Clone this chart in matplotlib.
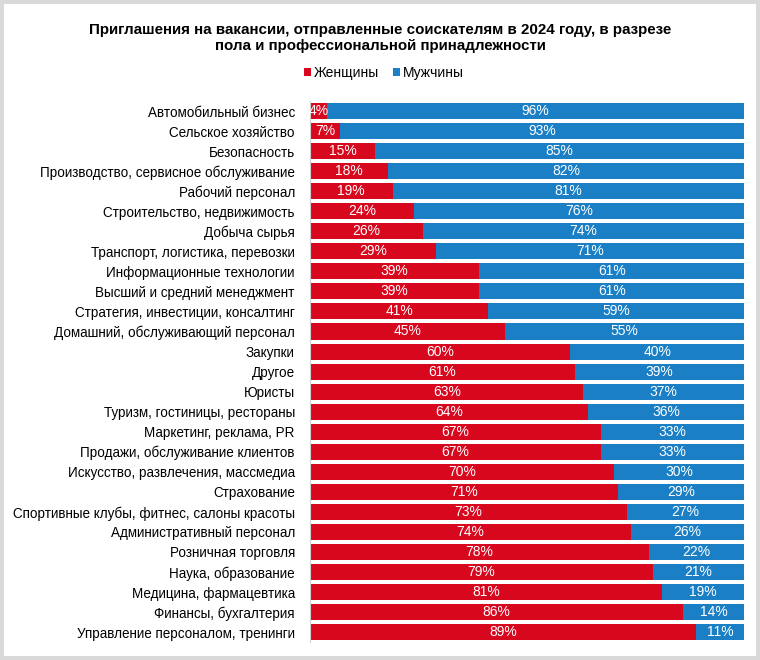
import matplotlib
matplotlib.use("Agg")
import matplotlib.pyplot as plt
import numpy as np

plt.rcParams["font.family"] = ["Liberation Sans", "DejaVu Sans"]

categories = [
    "Автомобильный бизнес",
    "Сельское хозяйство",
    "Безопасность",
    "Производство, сервисное обслуживание",
    "Рабочий персонал",
    "Строительство, недвижимость",
    "Добыча сырья",
    "Транспорт, логистика, перевозки",
    "Информационные технологии",
    "Высший и средний менеджмент",
    "Стратегия, инвестиции, консалтинг",
    "Домашний, обслуживающий персонал",
    "Закупки",
    "Другое",
    "Юристы",
    "Туризм, гостиницы, рестораны",
    "Маркетинг, реклама, PR",
    "Продажи, обслуживание клиентов",
    "Искусство, развлечения, массмедиа",
    "Страхование",
    "Спортивные клубы, фитнес, салоны красоты",
    "Административный персонал",
    "Розничная торговля",
    "Наука, образование",
    "Медицина, фармацевтика",
    "Финансы, бухгалтерия",
    "Управление персоналом, тренинги",
]
women = [4, 7, 15, 18, 19, 24, 26, 29, 39, 39, 41, 45, 60, 61, 63, 64,
         67, 67, 70, 71, 73, 74, 78, 79, 81, 86, 89]
men = [96, 93, 85, 82, 81, 76, 74, 71, 61, 61, 59, 55, 40, 39, 37, 36,
       33, 33, 30, 29, 27, 26, 22, 21, 19, 14, 11]

RED = "#d7071e"
BLUE = "#1b7fc6"

fig = plt.figure(figsize=(7.6, 6.6), dpi=100)
fig.patch.set_facecolor("white")
fig.patch.set_edgecolor("#d9d9d9")
fig.patch.set_linewidth(4.5)

ax = fig.add_axes([0.408, 0.027, 0.571, 0.820])
y = np.arange(len(categories))
bh = 0.8
ax.barh(y, women, height=bh, color=RED, label="Женщины")
ax.barh(y, men, left=women, height=bh, color=BLUE, label="Мужчины")

for i, (w, m) in enumerate(zip(women, men)):
    ax.text(w / 2, i, f"{w}%", ha="center", va="center", color="white", fontsize=10)
    ax.text(w + m / 2, i, f"{m}%", ha="center", va="center", color="white", fontsize=10)

ax.set_xlim(0, 100)
ax.set_ylim(len(categories) - 0.5, -0.5)
ax.set_yticks(y)
ax.set_yticklabels(categories, fontsize=9.75)
ax.set_xticks([])
ax.tick_params(axis="y", length=0, pad=11)
for side in ["top", "right", "bottom"]:
    ax.spines[side].set_visible(False)
ax.spines["left"].set_color("#d0d0d0")
ax.spines["left"].set_linewidth(0.8)

fig.text(0.5, 0.943, "Приглашения на вакансии, отправленные соискателям в 2024 году, в разрезе\nпола и профессиональной принадлежности",
         ha="center", va="center", fontsize=10.9, fontweight="bold", linespacing=1.2)

fig.legend(loc="center", bbox_to_anchor=(0.505, 0.889), ncol=2, frameon=False,
           fontsize=10, handlelength=0.5, handleheight=0.5, handletextpad=0.2,
           columnspacing=1.0)

fig.savefig("out.png", dpi=100, facecolor=fig.get_facecolor(), edgecolor=fig.get_edgecolor())
